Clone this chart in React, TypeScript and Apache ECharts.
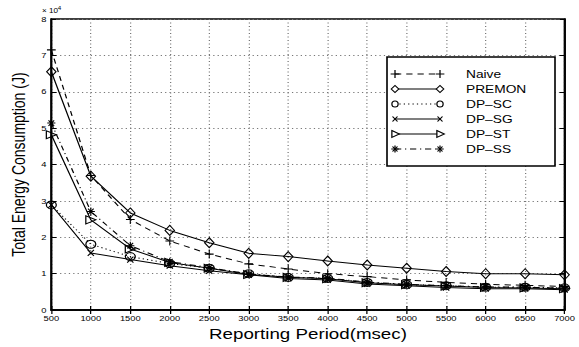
import React, { useEffect, useRef } from "react";
import * as echarts from "echarts";

const periods = [500, 1000, 1500, 2000, 2500, 3000, 3500, 4000, 4500, 5000, 5500, 6000, 6500, 7000];
const naive = [71500, 37000, 24900, 19000, 15400, 12700, 11300, 10000, 9200, 8300, 7600, 7100, 6800, 6500];
const premon = [65500, 36800, 26700, 21900, 18500, 15600, 14700, 13500, 12400, 11500, 10600, 10000, 10000, 9700];
const dpSC = [28900, 18100, 14700, 12800, 11500, 10000, 9000, 8700, 7600, 7000, 6700, 6300, 6300, 6100];
const dpSG = [28900, 15700, 13900, 12200, 10800, 9700, 8700, 8300, 7200, 6700, 6200, 5900, 5900, 5600];
const dpST = [48200, 24800, 16800, 13100, 11500, 9800, 9000, 8600, 7500, 7000, 6600, 6200, 6100, 5900];
const dpSS = [51400, 27100, 17700, 13300, 11700, 9900, 9100, 8800, 7700, 7100, 6700, 6400, 6300, 6000];
const seriesNames = ["Naive", "PREMON", "DP\u2013SC", "DP\u2013SG", "DP\u2013ST", "DP\u2013SS"];

const FONT = "'Liberation Sans', Arial, Helvetica, sans-serif";
// the reference figure is stretched horizontally; draw narrower and stretch
const STRETCH = 1.25;
const W = 579 / STRETCH;
const H = 347;

const PLUS = "path://M0,5L10,5M5,0L5,10";
const XMARK = "path://M0,0L10,10M10,0L0,10";
const STAR = "path://M5,0L5,10M0,5L10,5M1.5,1.5L8.5,8.5M8.5,1.5L1.5,8.5";

type Style = {
  data: number[];
  symbol: string;
  size: number | number[];
  rotate?: number;
  lineType: any;
};

const styles: Style[] = [
  { data: naive, symbol: PLUS, size: [7, 9], lineType: [5, 4] },
  { data: premon, symbol: "diamond", size: [7.5, 10], lineType: "solid" },
  { data: dpSC, symbol: "circle", size: 8, lineType: [1, 2.5] },
  { data: dpSG, symbol: XMARK, size: [5, 6], lineType: "solid" },
  { data: dpST, symbol: "triangle", size: 8, rotate: -90, lineType: "solid" },
  { data: dpSS, symbol: STAR, size: [6.5, 8], lineType: [5, 3, 1, 3] },
];

function legendMarker(kind: number, cx: number, cy: number): any[] {
  const st = { stroke: "#000", lineWidth: 1, fill: "none" };
  switch (kind) {
    case 0:
      return [
        { type: "line", shape: { x1: cx - 3.5, y1: cy, x2: cx + 3.5, y2: cy }, style: st },
        { type: "line", shape: { x1: cx, y1: cy - 4, x2: cx, y2: cy + 4 }, style: st },
      ];
    case 1:
      return [{ type: "polygon", shape: { points: [[cx - 3, cy], [cx, cy - 3.5], [cx + 3, cy], [cx, cy + 3.5]] }, style: { ...st, fill: "#fff" } }];
    case 2:
      return [{ type: "ellipse", shape: { cx, cy, rx: 2.5, ry: 3 }, style: { ...st, fill: "#fff" } }];
    case 3:
      return [
        { type: "line", shape: { x1: cx - 2, y1: cy - 2.5, x2: cx + 2, y2: cy + 2.5 }, style: st },
        { type: "line", shape: { x1: cx + 2, y1: cy - 2.5, x2: cx - 2, y2: cy + 2.5 }, style: st },
      ];
    case 4:
      return [{ type: "polygon", shape: { points: [[cx - 2.5, cy - 3.5], [cx + 3.5, cy], [cx - 2.5, cy + 3.5]] }, style: { ...st, fill: "#fff" } }];
    default:
      return [
        { type: "line", shape: { x1: cx - 3, y1: cy, x2: cx + 3, y2: cy }, style: st },
        { type: "line", shape: { x1: cx, y1: cy - 3.5, x2: cx, y2: cy + 3.5 }, style: st },
        { type: "line", shape: { x1: cx - 2, y1: cy - 2.5, x2: cx + 2, y2: cy + 2.5 }, style: st },
        { type: "line", shape: { x1: cx + 2, y1: cy - 2.5, x2: cx - 2, y2: cy + 2.5 }, style: st },
      ];
  }
}

export default function App() {
  const ref = useRef<HTMLDivElement>(null);
  useEffect(() => {
    document.body.style.margin = "0";
    if (!ref.current) return;
    const chart = echarts.init(ref.current, undefined, { renderer: "svg" });

    const lx = 387 / STRETCH;
    const legendEls: any[] = [
      { type: "rect", shape: { x: lx, y: 57, width: 168 / STRETCH, height: 109 }, style: { fill: "#fff", stroke: "#000", lineWidth: 1.3 }, z: 10 },
    ];
    seriesNames.forEach((name, i) => {
      const y = 74 + i * 15;
      const x1 = 395 / STRETCH;
      const x2 = 440 / STRETCH;
      legendEls.push({
        type: "line",
        shape: { x1, y1: y, x2, y2: y },
        style: { stroke: "#000", lineWidth: 1, lineDash: styles[i].lineType === "solid" ? null : styles[i].lineType },
        z: 11,
      });
      legendMarker(i, x1, y).forEach((e) => legendEls.push({ ...e, z: 12 }));
      legendMarker(i, x2, y).forEach((e) => legendEls.push({ ...e, z: 12 }));
      legendEls.push({
        type: "text",
        x: 466 / STRETCH,
        y,
        style: { text: name, fill: "#000", font: `11px ${FONT}`, verticalAlign: "middle", align: "left" },
        z: 12,
      });
    });

    const tickCommon = { show: true, inside: true, length: 4, lineStyle: { color: "#000", width: 1 } };
    const gridLine = { show: true, lineStyle: { color: "#777", type: [1, 2.5], width: 1 } };

    chart.setOption({
      animation: false,
      backgroundColor: "#fff",
      grid: { left: 41 / STRETCH, right: 12 / STRETCH, top: 19, bottom: 34, show: true, borderColor: "#000", borderWidth: 1.5, backgroundColor: "transparent" },
      xAxis: [
        {
          type: "value",
          min: 500,
          max: 7000,
          interval: 500,
          axisLine: { show: true, lineStyle: { color: "#000", width: 1.5 } },
          axisTick: tickCommon,
          axisLabel: { color: "#000", fontSize: 7.5, fontFamily: FONT, margin: 4, showMinLabel: true, showMaxLabel: true, formatter: (v: number) => String(v) },
          splitLine: gridLine,
          name: "Reporting Period(msec)",
          nameLocation: "middle",
          nameGap: 11.5,
          nameTextStyle: { color: "#000", fontSize: 15, fontFamily: FONT },
        },
        {
          type: "value",
          position: "top",
          min: 500,
          max: 7000,
          interval: 500,
          axisLine: { show: true, lineStyle: { color: "#000", width: 1.5 } },
          axisTick: tickCommon,
          axisLabel: { show: false },
          splitLine: { show: false },
        },
      ],
      yAxis: [
        {
          type: "value",
          min: 0,
          max: 80000,
          interval: 10000,
          axisLine: { show: true, lineStyle: { color: "#000", width: 1.5 } },
          axisTick: tickCommon,
          axisLabel: { color: "#000", fontSize: 7.5, fontFamily: FONT, margin: 4, formatter: (v: number) => String(v / 10000) },
          splitLine: gridLine,
          name: "Total Energy Consumption (J)",
          nameLocation: "middle",
          nameGap: 10,
          nameTextStyle: { color: "#000", fontSize: 14, fontFamily: FONT },
        },
        {
          type: "value",
          position: "right",
          min: 0,
          max: 80000,
          interval: 10000,
          axisLine: { show: true, lineStyle: { color: "#000", width: 1.5 } },
          axisTick: tickCommon,
          axisLabel: { show: false },
          splitLine: { show: false },
        },
      ],
      graphic: [
        {
          type: "text",
          x: 42 / STRETCH,
          y: 14,
          style: { text: "\u00d7 10", fill: "#000", font: `6.5px ${FONT}`, verticalAlign: "bottom", align: "left" },
        },
        {
          type: "text",
          x: 42 / STRETCH + 12.6,
          y: 10.5,
          style: { text: "4", fill: "#000", font: `5px ${FONT}`, verticalAlign: "bottom", align: "left" },
        },
        ...legendEls,
      ],
      series: styles.map((s, i) => ({
        name: seriesNames[i],
        type: "line",
        xAxisIndex: 0,
        yAxisIndex: 0,
        data: periods.map((p, j) => [p, s.data[j]]),
        symbol: s.symbol,
        symbolSize: s.size,
        symbolRotate: s.rotate ?? 0,
        showAllSymbol: true,
        lineStyle: { color: "#000", width: 1, type: s.lineType },
        itemStyle: { color: "none", borderColor: "#000", borderWidth: 1 },
        z: 3,
      })),
    });
    return () => chart.dispose();
  }, []);
  return (
    <div
      ref={ref}
      style={{
        position: "absolute",
        left: 0,
        top: 0,
        width: W,
        height: H,
        transform: `scaleX(${STRETCH})`,
        transformOrigin: "0 0",
      }}
    />
  );
}
